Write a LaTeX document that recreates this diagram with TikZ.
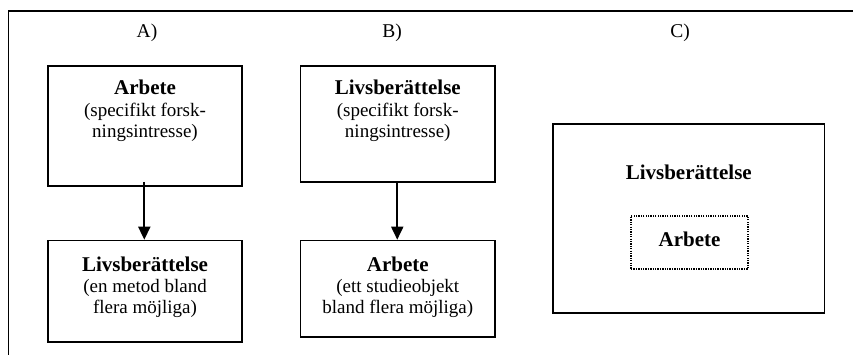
\documentclass[tikz,border=0pt]{standalone}
\usepackage{fontspec}
\setmainfont{Liberation Serif}
\usetikzlibrary{arrows.meta}
\tikzset{
  box/.style={draw, line width=1.6pt, minimum width=#1, inner sep=0pt},
  txt/.style={align=center, font=\fontsize{19}{21}\selectfont, inner sep=0pt},
  lbl/.style={font=\fontsize{19.5}{21}\selectfont, inner sep=0pt},
  bt/.style={font=\fontsize{21}{23}\selectfont\bfseries, inner sep=0pt},
  arr/.style={line width=1.8pt, -{Triangle[width=12pt,length=13pt]}},
  frame/.style={line width=1.6pt}
}
\newcommand{\bl}[1]{{\fontsize{21}{23}\selectfont\bfseries #1}}
\begin{document}
\begin{tikzpicture}[x=1pt,y=-1pt]
\useasboundingbox (0,0) rectangle (853,355);
\draw[frame] (8.5,355) -- (8.5,11) -- (853,11);
% labels
\node[lbl] (la) at (147,33) {A)};
\node[lbl] (lb) at (392,33) {B)};
\node[lbl] (lc) at (680,33) {C)};
% boxes
\node[box=194pt, minimum height=120pt] (a1) at (145,126) {};
\node[box=194pt, minimum height=101.5pt] (a2) at (145,291.25) {};
\node[box=194.5pt, minimum height=116pt] (b1) at (397.75,124) {};
\node[box=194.5pt, minimum height=96.5pt] (b2) at (397.75,288.75) {};
\node[box=271.5pt, minimum height=189pt] (c) at (688.75,218.5) {};
\node[draw, line width=1.3pt, dash pattern=on 1.3pt off 1.1pt, minimum width=117pt, minimum height=53pt, inner sep=0pt] (d) at (689.5,242.5) {};
% texts
\node[txt] (ta1) at (145,111) {\bl{Arbete}\\[1pt](specifikt forsk-\\ningsintresse)};
\node[txt] (ta2) at (145,287) {\bl{Livsberättelse}\\(en metod bland\\flera möjliga)};
\node[txt] (tb1) at (397.75,111) {\bl{Livsberättelse}\\[1pt](specifikt forsk-\\ningsintresse)};
\node[txt] (tb2) at (397.75,287) {\bl{Arbete}\\(ett studieobjekt\\bland flera möjliga)};
\node[bt] (tc) at (688.75,172) {Livsberättelse};
\node[bt] (td) at (689.5,239) {Arbete};
% arrows
\draw[arr] ([xshift=-0.7pt,yshift=5pt]a1.south) -- ([xshift=-0.7pt]a2.north);
\draw[arr] ([xshift=-0.5pt]b1.south) -- ([xshift=-0.5pt]b2.north);
\end{tikzpicture}
\end{document}
